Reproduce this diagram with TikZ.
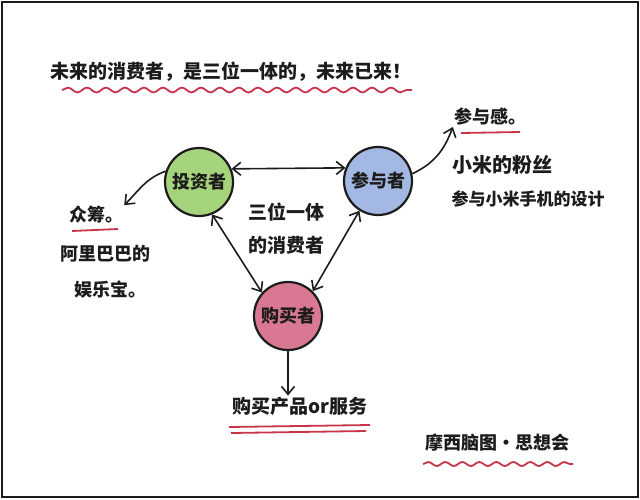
\documentclass[tikz,border=0pt]{standalone}
\usepackage{fontspec}
\newfontfamily\cjk{Noto Sans CJK SC}
\usepackage{xcolor}
\usetikzlibrary{positioning,arrows.meta,decorations.pathmorphing}
\definecolor{SKink}{HTML}{1C1C1C}
\definecolor{SKred}{HTML}{C8344A}
\definecolor{SKgreen}{HTML}{A6D47C}
\definecolor{SKblue}{HTML}{A3B8E2}
\definecolor{SKpink}{HTML}{D97892}

\begin{document}
\begin{tikzpicture}[x=1pt,y=-1pt,
  role/.style={circle, draw=SKink, line width=2.2pt, minimum size=68pt, inner sep=0pt,
    font=\cjk\fontsize{18}{20}\selectfont\bfseries, text=SKink},
  note/.style={font=\cjk\fontsize{18}{20}\selectfont\bfseries, text=SKink, inner sep=1pt},
  link/.style={SKink, line width=1.6pt, {Straight Barb[length=8pt,width=13pt]}-{Straight Barb[length=8pt,width=13pt]}},
  lead/.style={SKink, line width=1.6pt, -{Straight Barb[length=8pt,width=13pt]}},
  wave/.style={SKred, line width=1.8pt, decorate, decoration={snake, amplitude=2.4pt, segment length=19pt}}]
\useasboundingbox (0,0) rectangle (640,499);
\draw[SKink, line width=2.5pt] (2,2) rectangle (638,497);

% title
\node[note, font=\cjk\fontsize{19}{21}\selectfont\bfseries] (title) at (231,72) {未来的消费者，是三位一体的，未来已来！};
\draw[wave] (62,90) -- (412,90);

% three roles
\node[role, fill=SKgreen] (inv) at (199,182) {投资者};
\node[role, fill=SKblue] (par) at (378,181) {参与者};
\node[role, fill=SKpink] (buy) at (288,316) {购买者};
\node[note, align=center, font=\cjk\fontsize{19}{33}\selectfont\bfseries] (mid) at (286,229) {三位一体\\的消费者};

\draw[link] (inv.22) -- (par.158);
\draw[link] (inv.-68) -- (buy.138);
\draw[link] (par.-122) -- (buy.45);

% crowdfunding
\node[note] (zc) at (96,215) {众筹。};
\draw[SKred, line width=1.8pt] (72,231) -- (118,229);
\node[note] (ali) at (105,254) {阿里巴巴的};
\node[note] (ylb) at (110,290) {娱乐宝。};
\draw[lead] (inv.162) to[out=200, in=45] (zc.north east);

% participation
\node[note] (cyg) at (490,117) {参与感。};
\draw[SKred, line width=1.8pt] (461,133) -- (520,132);
\node[note, font=\cjk\fontsize{20}{22}\selectfont\bfseries] (fans) at (502,165) {小米的粉丝};
\node[note, font=\cjk\fontsize{17}{19}\selectfont\bfseries] (design) at (528,199) {参与小米手机的设计};
\draw[lead] (par.12) to[out=25, in=250] (cyg.south west);

% purchase
\node[note, font=\cjk\fontsize{19}{21}\selectfont\bfseries] (prod) at (300,406) {购买产品or服务};
\draw[lead] (buy.south) -- (prod.north -| buy.south);
\draw[SKred, line width=1.8pt] (229,427) -- (370,425);
\draw[SKred, line width=1.8pt] (231,433) -- (366,431);

% signature
\node[note] (sign) at (497,443) {摩西脑图·思想会};
\draw[wave, decoration={snake, amplitude=2pt, segment length=17pt}] (423,464) -- (573,464);
\end{tikzpicture}
\end{document}
